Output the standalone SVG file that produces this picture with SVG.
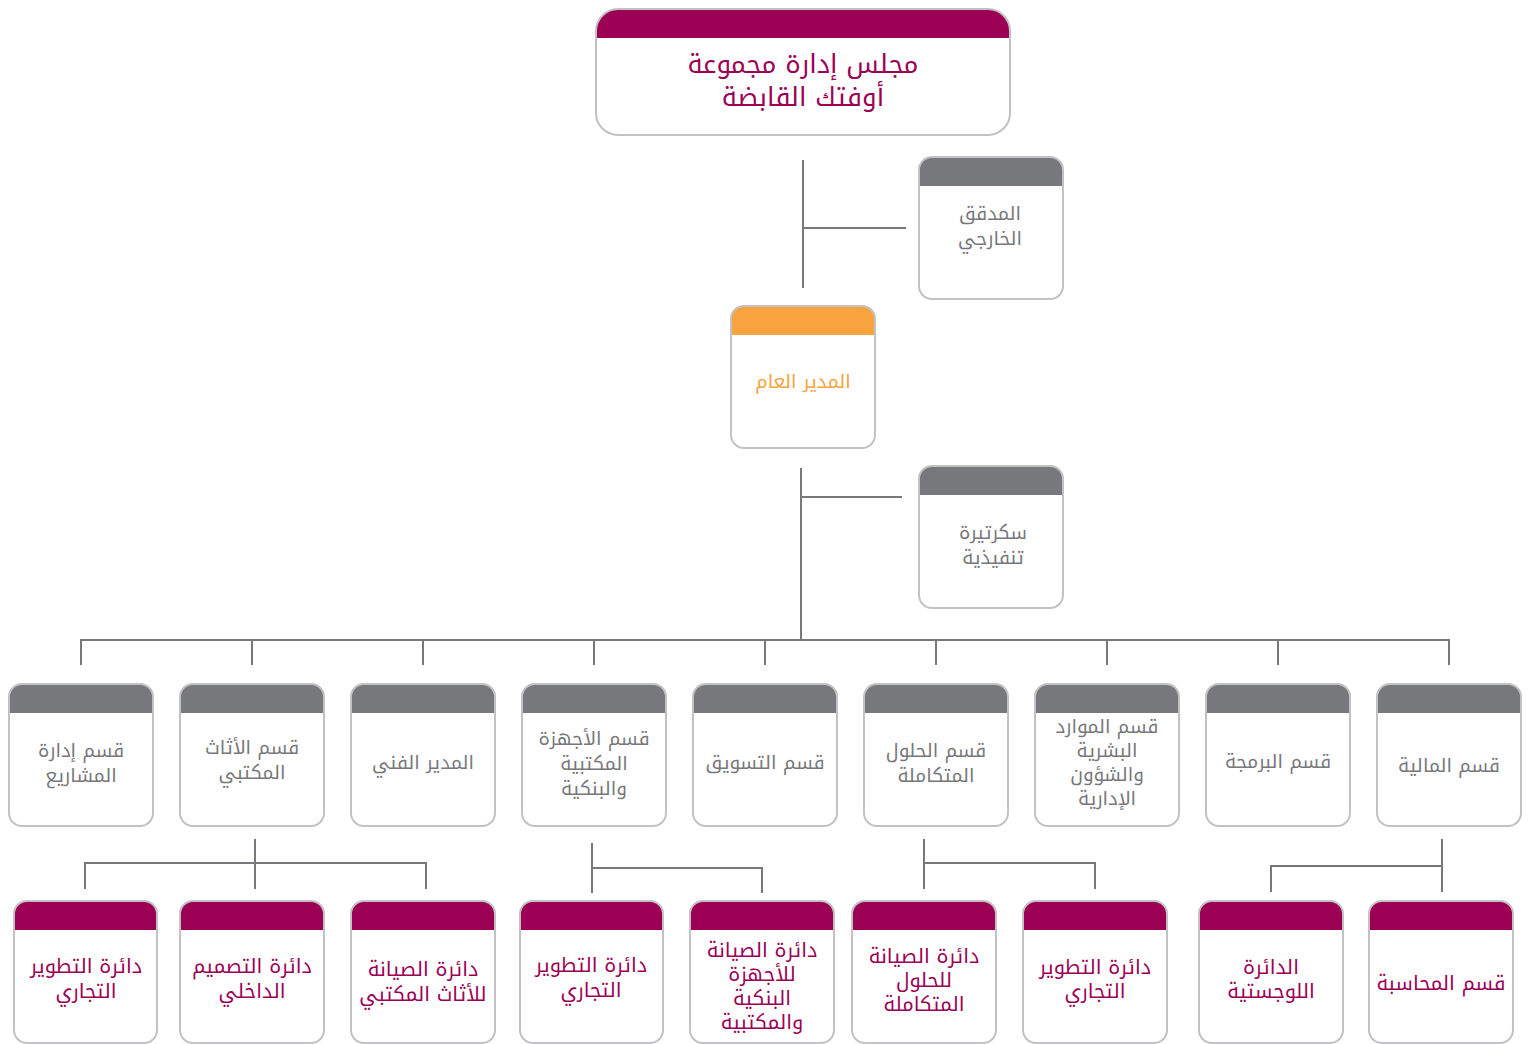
<svg xmlns="http://www.w3.org/2000/svg" width="1529" height="1044" viewBox="0 0 1529 1044">
<style>
.bg{fill:#ffffff}
.out{fill:none;stroke:#c2c2c4;stroke-width:2}
.hm{fill:#9c0055}
.hg{fill:#77787b}
.ho{fill:#f9a33e}
.ln{fill:none;stroke:#77787b;stroke-width:2}
text{font-family:"Noto Kufi Arabic","Noto Sans Arabic","DejaVu Sans",sans-serif;text-anchor:middle;direction:rtl}
.tg{fill:#77787b;font-size:19px}
.tm{fill:#9c0055;font-size:20px}
.to{fill:#f9a33e;font-size:19px}
.tt{fill:#9c0055;font-size:26px}
</style>
<rect class="bg" x="0" y="0" width="1529" height="1044"/>
<g id="connectors">
<path class="ln" d="M803,160 V288 M803,228 H906"/>
<path class="ln" d="M801,468 V640 M801,497 H902"/>
<path class="ln" d="M81,665 V640 H1449 V665 M252,640 V665 M423,640 V665 M594,640 V665 M765,640 V665 M936,640 V665 M1107,640 V665 M1278,640 V665"/>
<path class="ln" d="M255,839 V889 M85,889 V863 H426 V889"/>
<path class="ln" d="M592,843 V893 M592,868 H762 V893"/>
<path class="ln" d="M924,839 V889 M924,863 H1095 V889"/>
<path class="ln" d="M1442,839 V892 M1442,866 H1271 V892"/>
</g>
<g id="board">
<path class="hm" d="M596,31 a22,22 0 0 1 22,-22 h370 a22,22 0 0 1 22,22 v7 h-414 z"/>
<rect class="out" x="596" y="9" width="414" height="126" rx="22"/>
<text class="tt" x="803" y="73">مجلس إدارة مجموعة</text>
<text class="tt" x="803" y="106">أوفتك القابضة</text>
</g>
<g id="auditor">
<path class="hg" d="M919,170 a13,13 0 0 1 13,-13 h118 a13,13 0 0 1 13,13 v16 h-144 z"/>
<rect class="out" x="919" y="157" width="144" height="142" rx="13"/>
<text class="tg" x="990" y="220">المدقق</text>
<text class="tg" x="990" y="245">الخارجي</text>
</g>
<g id="gm">
<path class="ho" d="M731,319 a13,13 0 0 1 13,-13 h118 a13,13 0 0 1 13,13 v16 h-144 z"/>
<rect class="out" x="731" y="306" width="144" height="142" rx="13"/>
<text class="to" x="803" y="388">المدير العام</text>
</g>
<g id="secretary">
<path class="hg" d="M919,479 a13,13 0 0 1 13,-13 h118 a13,13 0 0 1 13,13 v16 h-144 z"/>
<rect class="out" x="919" y="466" width="144" height="142" rx="13"/>
<text class="tg" x="993" y="539">سكرتيرة</text>
<text class="tg" x="993" y="564">تنفيذية</text>
</g>
<g id="d-projects">
<path class="hg" d="M9,697 a13,13 0 0 1 13,-13 h118 a13,13 0 0 1 13,13 v16 h-144 z"/>
<rect class="out" x="9" y="684" width="144" height="142" rx="13"/>
<text class="tg" x="81" y="757">قسم إدارة</text>
<text class="tg" x="81" y="782">المشاريع</text>
</g>
<g id="d-furniture">
<path class="hg" d="M180,697 a13,13 0 0 1 13,-13 h118 a13,13 0 0 1 13,13 v16 h-144 z"/>
<rect class="out" x="180" y="684" width="144" height="142" rx="13"/>
<text class="tg" x="252" y="754">قسم الأثاث</text>
<text class="tg" x="252" y="779">المكتبي</text>
</g>
<g id="d-technical">
<path class="hg" d="M351,697 a13,13 0 0 1 13,-13 h118 a13,13 0 0 1 13,13 v16 h-144 z"/>
<rect class="out" x="351" y="684" width="144" height="142" rx="13"/>
<text class="tg" x="423" y="769">المدير الفني</text>
</g>
<g id="d-devices">
<path class="hg" d="M522,697 a13,13 0 0 1 13,-13 h118 a13,13 0 0 1 13,13 v16 h-144 z"/>
<rect class="out" x="522" y="684" width="144" height="142" rx="13"/>
<text class="tg" x="594" y="745">قسم الأجهزة</text>
<text class="tg" x="594" y="770">المكتبية</text>
<text class="tg" x="594" y="795">والبنكية</text>
</g>
<g id="d-marketing">
<path class="hg" d="M693,697 a13,13 0 0 1 13,-13 h118 a13,13 0 0 1 13,13 v16 h-144 z"/>
<rect class="out" x="693" y="684" width="144" height="142" rx="13"/>
<text class="tg" x="765" y="769">قسم التسويق</text>
</g>
<g id="d-solutions">
<path class="hg" d="M864,697 a13,13 0 0 1 13,-13 h118 a13,13 0 0 1 13,13 v16 h-144 z"/>
<rect class="out" x="864" y="684" width="144" height="142" rx="13"/>
<text class="tg" x="936" y="757">قسم الحلول</text>
<text class="tg" x="936" y="782">المتكاملة</text>
</g>
<g id="d-hr">
<path class="hg" d="M1035,697 a13,13 0 0 1 13,-13 h118 a13,13 0 0 1 13,13 v16 h-144 z"/>
<rect class="out" x="1035" y="684" width="144" height="142" rx="13"/>
<text class="tg" x="1107" y="733">قسم الموارد</text>
<text class="tg" x="1107" y="757">البشرية</text>
<text class="tg" x="1107" y="781">والشؤون</text>
<text class="tg" x="1107" y="805">الإدارية</text>
</g>
<g id="d-programming">
<path class="hg" d="M1206,697 a13,13 0 0 1 13,-13 h118 a13,13 0 0 1 13,13 v16 h-144 z"/>
<rect class="out" x="1206" y="684" width="144" height="142" rx="13"/>
<text class="tg" x="1278" y="768">قسم البرمجة</text>
</g>
<g id="d-finance">
<path class="hg" d="M1377,697 a13,13 0 0 1 13,-13 h118 a13,13 0 0 1 13,13 v16 h-144 z"/>
<rect class="out" x="1377" y="684" width="144" height="142" rx="13"/>
<text class="tg" x="1449" y="772">قسم المالية</text>
</g>
<g id="s-furn-dev">
<path class="hm" d="M14,914 a13,13 0 0 1 13,-13 h117 a13,13 0 0 1 13,13 v16 h-143 z"/>
<rect class="out" x="14" y="901" width="143" height="142" rx="13"/>
<text class="tm" x="86" y="973">دائرة التطوير</text>
<text class="tm" x="86" y="998">التجاري</text>
</g>
<g id="s-furn-design">
<path class="hm" d="M180,914 a13,13 0 0 1 13,-13 h118 a13,13 0 0 1 13,13 v16 h-144 z"/>
<rect class="out" x="180" y="901" width="144" height="142" rx="13"/>
<text class="tm" x="252" y="973">دائرة التصميم</text>
<text class="tm" x="252" y="998">الداخلي</text>
</g>
<g id="s-furn-maint">
<path class="hm" d="M351,914 a13,13 0 0 1 13,-13 h118 a13,13 0 0 1 13,13 v16 h-144 z"/>
<rect class="out" x="351" y="901" width="144" height="142" rx="13"/>
<text class="tm" x="423" y="976">دائرة الصيانة</text>
<text class="tm" x="423" y="1001">للأثاث المكتبي</text>
</g>
<g id="s-dev-dev">
<path class="hm" d="M520,914 a13,13 0 0 1 13,-13 h117 a13,13 0 0 1 13,13 v16 h-143 z"/>
<rect class="out" x="520" y="901" width="143" height="142" rx="13"/>
<text class="tm" x="591" y="972">دائرة التطوير</text>
<text class="tm" x="591" y="997">التجاري</text>
</g>
<g id="s-dev-maint">
<path class="hm" d="M690,914 a13,13 0 0 1 13,-13 h118 a13,13 0 0 1 13,13 v16 h-144 z"/>
<rect class="out" x="690" y="901" width="144" height="142" rx="13"/>
<text class="tm" x="762" y="957">دائرة الصيانة</text>
<text class="tm" x="762" y="981">للأجهزة</text>
<text class="tm" x="762" y="1005">البنكية</text>
<text class="tm" x="762" y="1029">والمكتبية</text>
</g>
<g id="s-sol-maint">
<path class="hm" d="M852,914 a13,13 0 0 1 13,-13 h118 a13,13 0 0 1 13,13 v16 h-144 z"/>
<rect class="out" x="852" y="901" width="144" height="142" rx="13"/>
<text class="tm" x="924" y="963">دائرة الصيانة</text>
<text class="tm" x="924" y="987">للحلول</text>
<text class="tm" x="924" y="1011">المتكاملة</text>
</g>
<g id="s-sol-dev">
<path class="hm" d="M1023,914 a13,13 0 0 1 13,-13 h118 a13,13 0 0 1 13,13 v16 h-144 z"/>
<rect class="out" x="1023" y="901" width="144" height="142" rx="13"/>
<text class="tm" x="1095" y="974">دائرة التطوير</text>
<text class="tm" x="1095" y="998">التجاري</text>
</g>
<g id="s-fin-log">
<path class="hm" d="M1199,914 a13,13 0 0 1 13,-13 h118 a13,13 0 0 1 13,13 v16 h-144 z"/>
<rect class="out" x="1199" y="901" width="144" height="142" rx="13"/>
<text class="tm" x="1271" y="974">الدائرة</text>
<text class="tm" x="1271" y="998">اللوجستية</text>
</g>
<g id="s-fin-acc">
<path class="hm" d="M1369,914 a13,13 0 0 1 13,-13 h118 a13,13 0 0 1 13,13 v16 h-144 z"/>
<rect class="out" x="1369" y="901" width="144" height="142" rx="13"/>
<text class="tm" x="1441" y="990">قسم المحاسبة</text>
</g>
</svg>
